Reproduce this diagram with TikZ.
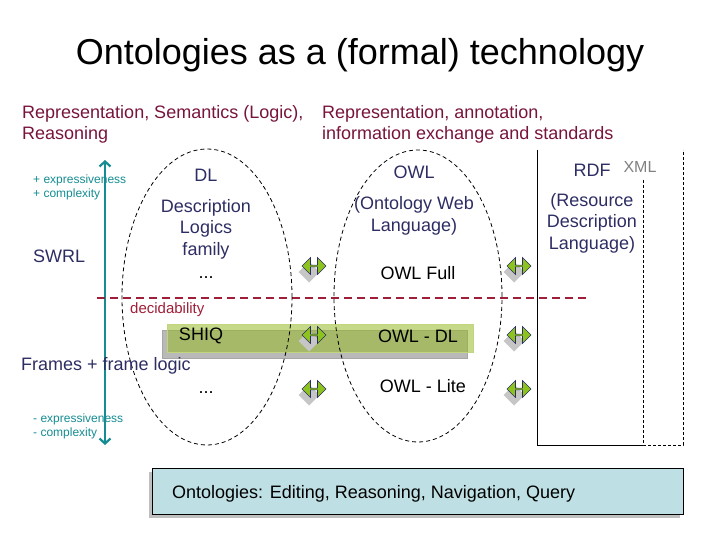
\documentclass[tikz,border=0pt]{standalone}
\usepackage{fontspec}
\setmainfont{Liberation Sans}
\usetikzlibrary{shapes.geometric,shapes.arrows,arrows.meta,positioning}

\definecolor{hdrred}{RGB}{120,20,60}
\definecolor{navytext}{RGB}{45,45,100}
\definecolor{tealline}{RGB}{20,140,145}
\definecolor{decred}{RGB}{160,30,55}
\definecolor{barleaf}{RGB}{150,185,40}
\definecolor{arrowgreen}{RGB}{140,195,30}
\definecolor{boxblue}{RGB}{190,224,228}

\begin{document}
\begin{tikzpicture}[x=1pt,y=-1pt]

\tikzstyle{big} = [font=\fontsize{18}{21.6}\selectfont, inner sep=0pt, text=navytext, align=center]
\tikzstyle{plain} = [font=\fontsize{18}{21.6}\selectfont, inner sep=0pt]
\tikzstyle{small} = [font=\fontsize{12}{14}\selectfont, inner sep=0pt, text=tealline, anchor=base west]
\tikzstyle{header} = [font=\fontsize{18}{21.6}\selectfont, inner sep=0pt, text=hdrred, align=left, anchor=north west]
\tikzstyle{family} = [ellipse, draw, line width=0.8pt, dash pattern=on 4pt off 3pt]
\tikzstyle{dblarrow} = [double arrow, fill=arrowgreen, draw=navytext, line width=0.6pt, minimum height=24pt, minimum width=17pt, double arrow head extend=2.5pt, inner sep=0pt]
\tikzstyle{dblshadow} = [double arrow, fill=gray!45, minimum height=21pt, minimum width=21pt, double arrow head extend=2.5pt, inner sep=0pt]
\tikzstyle{arrow} = [line width=2.2pt, tealline, {Straight Barb[length=5pt,width=11pt]}-{Straight Barb[length=5pt,width=11pt]}]

\useasboundingbox (0,0) rectangle (720,540);

% title and headers
\node (title) [font=\fontsize{36}{40}\selectfont, inner sep=0pt] at (360,55) {Ontologies as a (formal) technology};
\node (logichdr) [header] at (22,105) {Representation, Semantics (Logic),\\Reasoning};
\node (stdhdr) [header] at (322,105) {Representation, annotation,\\information exchange and standards};

% expressiveness axis
\coordinate (axtop) at (105,160);
\coordinate (axbot) at (105,445);
\draw [arrow] (axbot) -- (axtop);
\node (moreexp) [small] at (33,184) {+ expressiveness};
\node (morecx) [small] at (33,198) {+ complexity};
\node (lessexp) [small] at (33,422) {- expressiveness};
\node (lesscx) [small] at (33,436) {- complexity};

% RDF / XML boxes
\coordinate (rdftl) at (537,150);
\coordinate (rdfbr) at (643,445);
\coordinate (xmltl) at (643,180);
\coordinate (xmlbr) at (683,445);
\draw [line width=0.8pt] (rdftl) -- (rdftl |- rdfbr) -- (rdfbr);
\draw [line width=0.8pt, dash pattern=on 3pt off 2pt] (xmltl) -- (xmltl |- xmlbr) -- (xmlbr) -- (xmlbr |- rdftl);

% decidability
\coordinate (decl) at (97,298);
\coordinate (decr) at (588,298);
\draw [decred, line width=2pt, dash pattern=on 8pt off 5pt] (decl) -- (decr);
\node (decid) [font=\fontsize{15}{18}\selectfont, inner sep=0pt, text=decred, anchor=base west] at (130,313) {decidability};

% SHIQ / OWL-DL bar
\node (barshadow) [fill=gray!55, draw=gray!70, minimum width=305pt, minimum height=28pt, inner sep=0pt] at (314.5,344) {};
\node (bar) [fill=barleaf, fill opacity=0.55, draw=barleaf!60, minimum width=306pt, minimum height=28pt, inner sep=0pt] at (320,338) {};

% DL and OWL families
\node (dlset) [family, minimum width=170pt, minimum height=296pt] at (207,297) {};
\node (owlset) [family, minimum width=168pt, minimum height=292pt] at (418,296) {};

% mapping arrows
\foreach \row/\ypos in {1/266, 2/335, 3/389} {
  \node (lshadow\row) [dblshadow] at (309,\ypos+6) {};
  \node (lmap\row) [dblarrow] at (314,\ypos) {};
  \node (rshadow\row) [dblshadow] at (514,\ypos+6) {};
  \node (rmap\row) [dblarrow] at (519,\ypos) {};
}

% texts
\node (dl) [big] at (206,175) {DL};
\node (dldesc) [big] at (206,229) {Description\\Logics\\family};
\node (dldots) [plain, anchor=base] at (206,278) {...};
\node (owl) [big] at (414,172) {OWL};
\node (owldesc) [big] at (414,216) {(Ontology Web\\Language)};
\node (owlfull) [plain] at (418,273) {OWL Full};
\node (shiq) [plain] at (201,336) {SHIQ};
\node (owldl) [plain] at (418,336) {OWL - DL};
\node (lowdots) [plain, anchor=base] at (206,393) {...};
\node (owllite) [plain] at (423,386) {OWL - Lite};
\node (swrl) [plain, text=navytext, anchor=base west] at (33,262) {SWRL};
\node (frames) [plain, text=navytext, anchor=base west] at (21,370) {Frames + frame logic};
\node (rdf) [big] at (592,170) {RDF};
\node (xml) [font=\fontsize{16}{19}\selectfont, inner sep=0pt, text=gray] at (640,167) {XML};
\node (rdfdesc) [big] at (592,223) {(Resource\\Description\\Language)};

% tools box
\node (toolshadow) [fill=gray!50, minimum width=531pt, minimum height=46pt, inner sep=0pt] at (414.5,495) {};
\node (tools) [fill=boxblue, draw, line width=0.8pt, minimum width=531pt, minimum height=46pt, inner sep=0pt] at (417.5,491) {};
\node (toolstext) [plain, anchor=base west] at (172,498) {Ontologies: Editing, Reasoning, Navigation, Query};

\end{tikzpicture}
\end{document}
